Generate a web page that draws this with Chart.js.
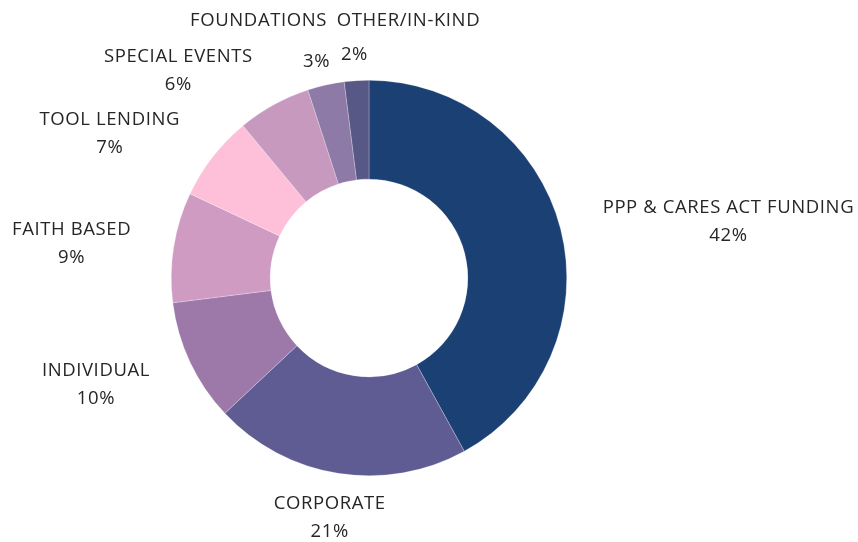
<!DOCTYPE html>
<html>
<head>
<meta charset="utf-8">
<script src="https://cdn.jsdelivr.net/npm/chart.js@4/dist/chart.umd.min.js"></script>
<style>
  html, body { margin: 0; padding: 0; background: #fff; }
  #wrap { width: 858px; height: 542px; position: relative; }
</style>
</head>
<body>
<div id="wrap"><canvas id="chart"></canvas></div>
<script>
// Dữ liệu biểu đồ
const categories = ["PPP & CARES ACT FUNDING", "CORPORATE", "INDIVIDUAL", "FAITH BASED",
                    "TOOL LENDING", "SPECIAL EVENTS", "FOUNDATIONS", "OTHER/IN-KIND"];
const percents = [42, 21, 10, 9, 7, 6, 3, 2];
const sliceColors = ["#1b4174", "#5f5c94", "#9d79a9", "#cf9bc2",
                     "#fdc0d8", "#c899bf", "#8e7aa6", "#585887"];

// Dịch chuyển nhãn (tên, phần trăm) so với vị trí tính tự động
const nameNudge = [[34, 4], [3, 0], [-30, 3], [-27, 4], [-35, 5], [-52, 5], [-58, -27], [54, -20]];
const pctNudge  = [[34, 4], [3, 0], [-30, 3], [-27, 4], [-35, 5], [-52, 5], [-2, 8], [0, 6]];

const FONT = '18.5px "Open Sans", "Noto Sans", sans-serif';

// Plugin vẽ nhãn bên ngoài lát bánh
const outsideLabels = {
    id: 'outsideLabels',
    afterDatasetsDraw(chart) {
        const ctx = chart.ctx;
        const meta = chart.getDatasetMeta(0);
        ctx.save();
        ctx.font = FONT;
        ctx.letterSpacing = '0.6px';
        ctx.fillStyle = '#262626';
        ctx.textAlign = 'center';
        ctx.textBaseline = 'middle';
        meta.data.forEach((arc, i) => {
            const p = arc.getProps(['x', 'y', 'startAngle', 'endAngle', 'outerRadius'], true);
            const mid = (p.startAngle + p.endAngle) / 2;
            const dx = Math.cos(mid), dy = Math.sin(mid);
            const ax = p.x + dx * (p.outerRadius + 20);
            const ay = p.y + dy * (p.outerRadius + 20);
            const name = categories[i];
            const pct = percents[i] + '%';
            const w = 0.94 * ctx.measureText(name).width;
            const h = 50;
            const cx = ax + dx * w / 2;
            const cy = ay + dy * h / 2;
            if (i >= 6) {
                // nhãn tách: phần trăm ở gần lát, tên phía trên
                const pw = ctx.measureText(pct).width;
                const px = ax + dx * pw / 2 + pctNudge[i][0];
                const py = ay + dy * 12 + pctNudge[i][1];
                ctx.fillText(pct, px, py);
                ctx.fillText(name, px + nameNudge[i][0], py + nameNudge[i][1] - 14);
            } else {
                ctx.fillText(name, cx + nameNudge[i][0], cy - 14 + nameNudge[i][1]);
                ctx.fillText(pct, cx + pctNudge[i][0], cy + 14 + pctNudge[i][1]);
            }
        });
        ctx.restore();
    }
};

const ctx = document.getElementById('chart').getContext('2d');
new Chart(ctx, {
    type: 'doughnut',
    data: {
        labels: categories,
        datasets: [{
            data: percents,
            backgroundColor: sliceColors,
            borderColor: 'rgba(255,255,255,0.5)',
            borderWidth: 0.5
        }]
    },
    options: {
        responsive: true,
        maintainAspectRatio: false,
        animation: false,
        cutout: '50%',
        layout: { padding: { left: 171, right: 291, top: 80, bottom: 66 } },
        plugins: {
            legend: { display: false },
            tooltip: { enabled: false }
        }
    },
    plugins: [outsideLabels]
});
</script>
</body>
</html>
